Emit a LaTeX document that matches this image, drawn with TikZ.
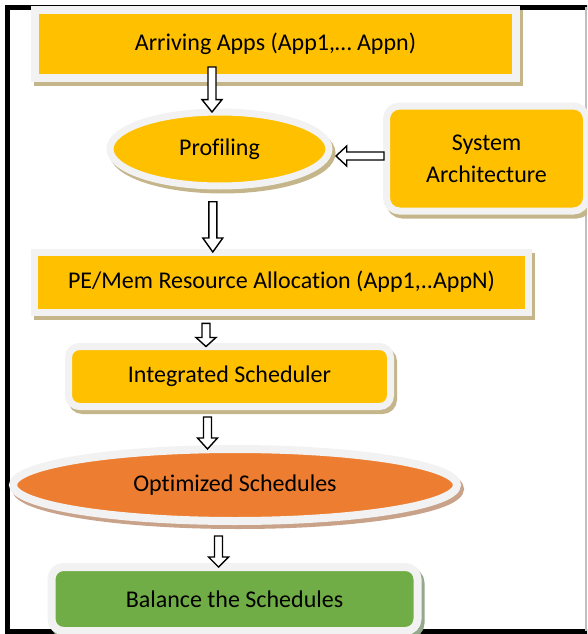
\documentclass[tikz,border=0pt]{standalone}
\usepackage{fontspec}
\setmainfont{Carlito}[Ligatures=NoCommon]
\usetikzlibrary{shapes.geometric,calc}
\definecolor{yel}{HTML}{FFC000}
\definecolor{org}{HTML}{ED7D31}
\definecolor{grn}{HTML}{70AD47}
\definecolor{rim}{HTML}{F2F2F2}
\definecolor{shtan}{HTML}{C4B68A}
\definecolor{shorg}{HTML}{C9A28A}
\definecolor{shgrn}{HTML}{94A88A}
\newcommand\vblock[3]{%
  \draw[blockarr] let \p1=#1, \p2=#2 in
    ({\x1-4pt},\y1) -- ({\x1+4pt},\y1) -- ({\x1+4pt},{\y2+#3}) -- ({\x1+10pt},{\y2+#3})
    -- (\x1,\y2) -- ({\x1-10pt},{\y2+#3}) -- ({\x1-4pt},{\y2+#3}) -- cycle;}
\newcommand\hblock[3]{%
  \draw[blockarr] let \p1=#1, \p2=#2 in
    (\x1,{\y1-4pt}) -- (\x1,{\y1+4pt}) -- ({\x2+#3},{\y1+4pt}) -- ({\x2+#3},{\y1+10pt})
    -- (\x2,\y1) -- ({\x2+#3},{\y1-10pt}) -- ({\x2+#3},{\y1-4pt}) -- cycle;}
\begin{document}
\begin{tikzpicture}[x=1pt,y=-1pt,
  base/.style={inner sep=0pt, outer sep=0pt, draw=rim, text=black,
    font=\fontsize{24}{32}\selectfont},
  shad/.style={preaction={draw=#1, fill=#1, transform canvas={shift={(3pt,-4pt)}}}},
  rbox/.style={base, rectangle},
  ebox/.style={base, ellipse},
  blockarr/.style={draw=black, fill=white, line width=1.4pt, line join=miter}
]
\useasboundingbox (0,0) rectangle (587,634);
\clip (0,0) rectangle (587,634);
% frame
\draw[black, line width=5pt] (590,7.5) -- (7.5,7.5) -- (7.5,631) -- (590,631);
\draw[black!25, line width=1.2pt] (586,7.5) -- (586,631);
% nodes
\node[rbox, shad=shtan, fill=yel, line width=8pt, minimum width=481pt, minimum height=67pt]
  (arr) at (275.5,44) {Arriving Apps (App1,… Appn)};
\node[ebox, shad=shtan, fill=yel, line width=7pt, minimum width=219pt, minimum height=74pt]
  (prof) at (219.5,149) {Profiling};
\node[rbox, rounded corners=13pt, shad=shtan, fill=yel, line width=7pt, minimum width=200pt,
  minimum height=105pt, align=center] (sys) at (486.5,158.5) {System\\Architecture};
\node[rbox, shad=shtan, fill=yel, line width=7pt, minimum width=494pt, minimum height=60pt]
  (pe) at (281.5,282) {PE/Mem Resource Allocation (App1,..AppN)};
\node[rbox, rounded corners=11pt, shad=shtan, fill=yel, line width=7pt, minimum width=322pt,
  minimum height=60pt] (is) at (229.5,376.5) {Integrated Scheduler};
\node[ebox, shad=shorg, fill=org, line width=8pt, minimum width=444pt, minimum height=72pt]
  (opt) at (235,485) {Optimized Schedules};
\node[rbox, rounded corners=12pt, shad=shgrn, fill=grn, line width=8pt, minimum width=366pt,
  minimum height=64pt] (bal) at (234.5,599) {Balance the Schedules};
% arrows
\coordinate (a1) at (212,67);
\coordinate (a2) at (212.8,201.7);
\coordinate (a3) at (206,323.3);
\coordinate (a4) at (207.5,417);
\coordinate (a5) at (218.5,536);
\coordinate (a6) at (384,156);
\vblock{(a1)}{(a1 |- prof.north)}{12.4pt}
\vblock{(a2)}{(a2 |- pe.north)}{14pt}
\vblock{(a3)}{(a3 |- is.north)}{9pt}
\vblock{(a4)}{(a4 |- opt.north)}{11pt}
\vblock{(a5)}{(a5 |- bal.north)}{10pt}
\hblock{(a6)}{($(a6 -| prof.east)+(7,0)$)}{10.7pt}
\end{tikzpicture}
\end{document}
